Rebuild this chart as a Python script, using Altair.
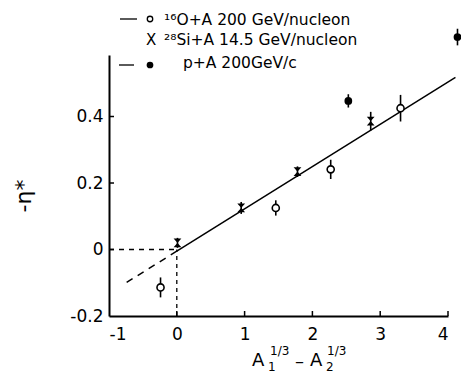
import altair as alt
import pandas as pd

# ---------------- data ----------------
x_ticks = [-1, 0, 1, 2, 3, 4]
y_ticks = [-0.2, 0, 0.2, 0.4]

# 16O + A 200 GeV/nucleon (open circles)
o_x = [-0.24, 1.46, 2.27, 3.30]
o_y = [-0.114, 0.125, 0.241, 0.425]
o_err = [0.030, 0.023, 0.029, 0.040]

# 28Si + A 14.5 GeV/nucleon (crosses)
si_x = [0.01, 0.95, 1.78, 2.86]
si_y = [0.020, 0.125, 0.234, 0.386]
si_err = [0.015, 0.018, 0.016, 0.028]

# p + A 200 GeV/c (filled circles)
p_x = [2.53, 4.14]
p_y = [0.447, 0.639]
p_err = [0.020, 0.025]

# fitted line (solid) and its extrapolation (dashed)
fit_x = [0.0, 4.11]
fit_y = [-0.005, 0.518]
ext_x = [-0.74, 0.0]
ext_y = [-0.099, -0.005]

# dotted guides
gh_x = [-1.0, 0.0]
gh_y = [0.0, 0.0]
gv_x = [0.0, 0.0]
gv_y = [-0.2, 0.0]

legend_labels = ["\u00b9\u2076O+A  200 GeV/nucleon", "\u00b2\u2078Si+A  14.5 GeV/nucleon", "p+A  200GeV/c"]

# ---------------- layout ----------------
W, H = 339, 261
OX, OY = 109, 55  # page position of the plot origin


def px(v):
    return v - OX - 3 + 3  # page x (reference) -> chart x


def py(v):
    return v - OY


FONT = "DejaVu Sans"

xscale = alt.Scale(domain=[-1, 4], nice=False, zero=False)
yscale = alt.Scale(domain=[-0.2, 0.585], nice=False, zero=False)
xaxis = alt.Axis(values=x_ticks, ticks=False, grid=False, labelPadding=10, title=None,
                 domainColor="black", domainWidth=2, labelFontSize=17, labelColor="black",
                 labelFont=FONT, labelExpr="toString(datum.value)")
yaxis = alt.Axis(values=y_ticks, ticks=False, grid=False, labelPadding=6, title=None,
                 domainColor="black", domainWidth=2, labelFontSize=17, labelColor="black",
                 labelFont=FONT,
                 labelExpr="datum.value == 0 ? '0' : replace(format(datum.value, '.1f'), '\u2212', '-')")


def X(f):
    return alt.X(f, type="quantitative", scale=xscale, axis=xaxis)


def Y(f):
    return alt.Y(f, type="quantitative", scale=yscale, axis=yaxis)


def df_err(xs, ys, es):
    return pd.DataFrame({"x": xs, "y": ys, "lo": [a - b for a, b in zip(ys, es)],
                         "hi": [a + b for a, b in zip(ys, es)]})


d_o = df_err(o_x, o_y, o_err)
d_si = df_err(si_x, si_y, si_err)
d_p = df_err(p_x, p_y, p_err)

one = pd.DataFrame({"a": [0]})

layers = []

# guides
layers.append(alt.Chart(pd.DataFrame({"x": gh_x, "y": gh_y})).mark_line(
    color="black", strokeWidth=1.3, strokeDash=[5, 5]).encode(x=X("x"), y=Y("y")))
layers.append(alt.Chart(pd.DataFrame({"x": gv_x, "y": gv_y})).mark_line(
    color="black", strokeWidth=1.3, strokeDash=[4, 4]).encode(x=X("x"), y=Y("y")))

# fit line + extrapolation
layers.append(alt.Chart(pd.DataFrame({"x": fit_x, "y": fit_y})).mark_line(
    color="black", strokeWidth=1.5).encode(x=X("x"), y=Y("y")))
layers.append(alt.Chart(pd.DataFrame({"x": ext_x, "y": ext_y})).mark_line(
    color="black", strokeWidth=1.5, strokeDash=[7, 6]).encode(x=X("x"), y=Y("y")))

# inward ticks
layers.append(alt.Chart(pd.DataFrame({"x": x_ticks[1:]})).mark_rule(
    color="black", strokeWidth=1.5).encode(x=X("x"), y=alt.value(H), y2=alt.value(H - 5)))
layers.append(alt.Chart(pd.DataFrame({"y": y_ticks[1:]})).mark_rule(
    color="black", strokeWidth=1.5).encode(y=Y("y"), x=alt.value(0), x2=alt.value(5)))

# error bars
for d in (d_o, d_si, d_p):
    layers.append(alt.Chart(d).mark_rule(color="black", strokeWidth=1.6).encode(
        x=X("x"), y=Y("lo"), y2="hi"))

# markers
layers.append(alt.Chart(d_o).mark_point(shape="circle", filled=True, fill="white", stroke="black",
                                        strokeWidth=1.6, size=50, opacity=1).encode(x=X("x"), y=Y("y")))
layers.append(alt.Chart(d_si).mark_point(shape="M-0.9,-1L0.9,-1L-0.9,1L0.9,1Z", filled=True,
                                         color="black", size=75, opacity=1).encode(x=X("x"), y=Y("y")))
layers.append(alt.Chart(d_p).mark_point(shape="circle", filled=True, color="black",
                                        size=60, opacity=1).encode(x=X("x"), y=Y("y")))

# legend (drawn as annotations)
layers.append(alt.Chart(one).mark_rule(color="black", strokeWidth=1.3).encode(
    x=alt.value(px(120)), x2=alt.value(px(137)), y=alt.value(py(19))))
layers.append(alt.Chart(one).mark_point(shape="circle", filled=True, fill="white", stroke="black",
                                        strokeWidth=1.3, size=30, opacity=1).encode(
    x=alt.value(px(150)), y=alt.value(py(19))))
layers.append(alt.Chart(one).mark_text(text="X", font=FONT, fontSize=15, align="left",
                                       baseline="alphabetic", color="black").encode(
    x=alt.value(px(146)), y=alt.value(py(45))))
layers.append(alt.Chart(one).mark_rule(color="black", strokeWidth=1.3).encode(
    x=alt.value(px(119)), x2=alt.value(px(134)), y=alt.value(py(65))))
layers.append(alt.Chart(one).mark_point(shape="circle", filled=True, color="black",
                                        size=45, opacity=1).encode(
    x=alt.value(px(150)), y=alt.value(py(65))))
for label, lx, ly in zip(legend_labels, [164, 164, 183], [25, 45, 68]):
    layers.append(alt.Chart(one).mark_text(text=label, font=FONT, fontSize=15.5, align="left",
                                           baseline="alphabetic", color="black").encode(
        x=alt.value(px(lx)), y=alt.value(py(ly))))

# y-axis title
layers.append(alt.Chart(one).mark_text(text="-\u03b7*", font=FONT, fontSize=22, angle=270,
                                       align="center", baseline="middle", color="black").encode(
    x=alt.value(px(24)), y=alt.value(py(196))))

# x-axis title  A1^(1/3) - A2^(1/3)
xt = [
    ("A", 18, 252, 366),
    ("1/3", 12, 270, 355),
    ("1", 12, 268, 371),
    ("\u2013", 18, 295, 367),
    ("A", 18, 310, 366),
    ("1/3", 12, 327, 355),
    ("2", 12, 326, 371),
]
for t, fs, tx, ty in xt:
    layers.append(alt.Chart(one).mark_text(text=t, font=FONT, fontSize=fs, align="left",
                                           baseline="alphabetic", color="black").encode(
        x=alt.value(px(tx)), y=alt.value(py(ty))))

chart = alt.layer(*layers).properties(
    width=W, height=H,
    autosize=alt.AutoSizeParams(type="none"),
    padding={"left": OX - 8, "top": OY - 8, "right": 453 - (OX - 8) - W, "bottom": 368 - (OY - 8) - H},
).configure_view(stroke=None)

chart.save("out.html", embed_options={"renderer": "svg", "actions": False})
